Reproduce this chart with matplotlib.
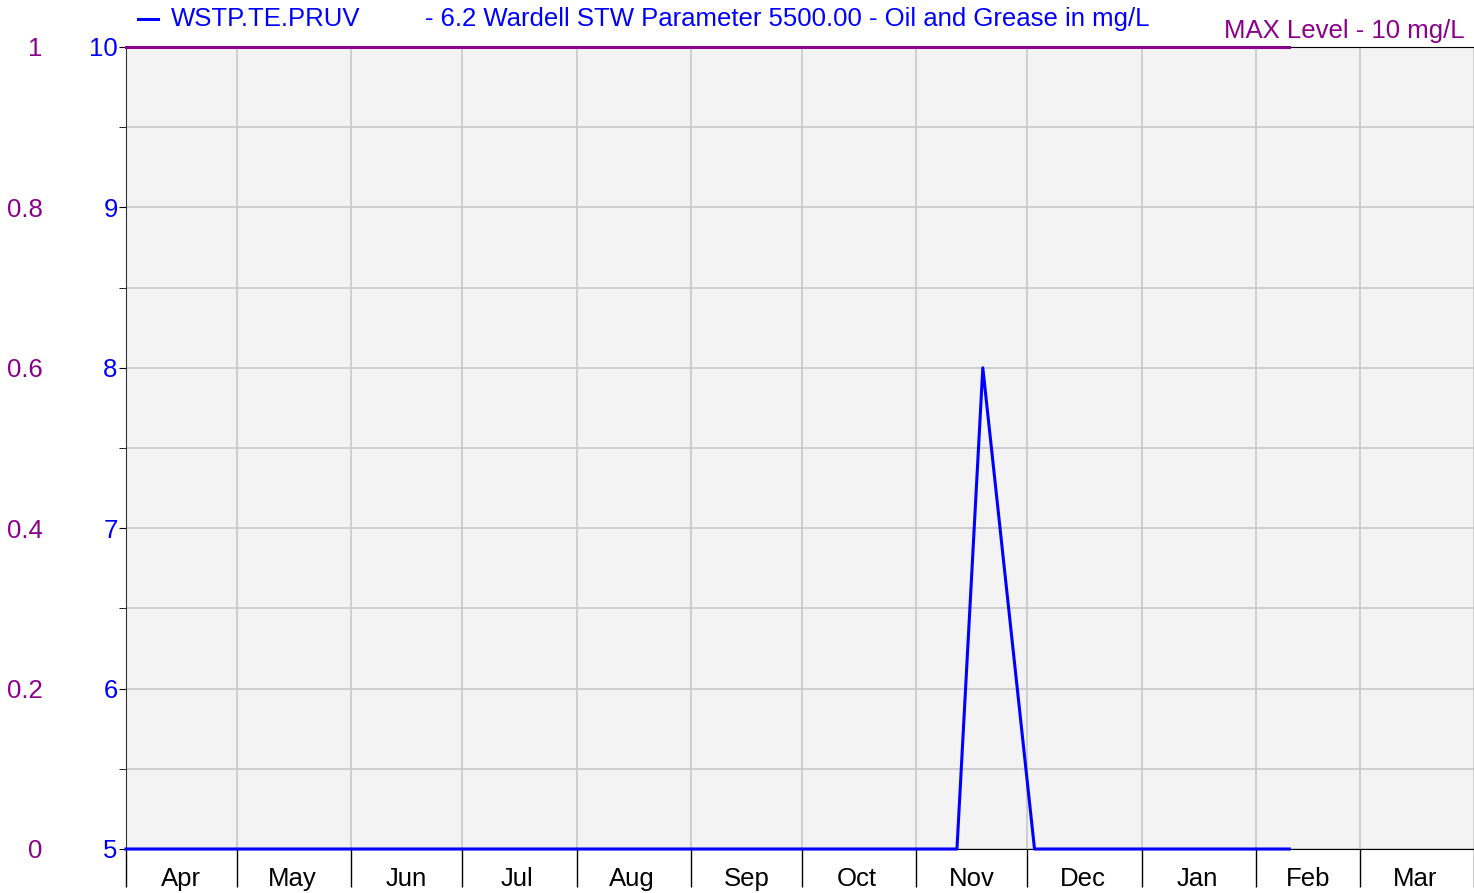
import datetime as dt
import matplotlib
matplotlib.use('Agg')
import matplotlib.pyplot as plt
import matplotlib.dates as mdates
from matplotlib.lines import Line2D

plt.rcParams['font.family'] = ['Liberation Sans', 'DejaVu Sans']

# Sample series (mg/L)
sample_dates = [dt.date(2022, 4, 1), dt.date(2022, 11, 12), dt.date(2022, 11, 19),
                dt.date(2022, 12, 3), dt.date(2023, 2, 10)]
sample_values = [5, 5, 8, 5, 5]

# MAX level line
max_dates = [dt.date(2022, 4, 1), dt.date(2023, 2, 10)]
max_values = [10, 10]

month_starts = [dt.date(2022, m, 1) for m in range(4, 13)] + \
               [dt.date(2023, m, 1) for m in range(1, 5)]
month_labels = ['Apr', 'May', 'Jun', 'Jul', 'Aug', 'Sep', 'Oct', 'Nov', 'Dec',
                'Jan', 'Feb', 'Mar']

left_ticks = [5, 6, 7, 8, 9, 10]
right_labels = ['0', '0.2', '0.4', '0.6', '0.8', '1']

BLUE = '#0000FF'
PURPLE = '#8B008B'
FS = 18.5

fig = plt.figure(figsize=(14.74, 8.93), dpi=100)
ax = fig.add_axes([126 / 1474, 1 - 849 / 893, 1 - 126 / 1474, (849 - 47) / 893])
ax.set_facecolor('#F3F3F3')

ax.plot(sample_dates, sample_values, color=BLUE, linewidth=2.2, zorder=4, clip_on=False)
ax.plot(max_dates, max_values, color=PURPLE, linewidth=2.2, zorder=4, clip_on=False)

ax.set_xlim(month_starts[0], month_starts[-1])
ax.set_ylim(5, 10)

# x axis: long ticks on month boundaries, labels centred in each month
ax.set_xticks(month_starts)
ax.set_xticklabels([])
centres = [month_starts[i] + (month_starts[i + 1] - month_starts[i]) / 2
           for i in range(len(month_labels))]
ax.set_xticks(centres, minor=True)
ax.set_xticklabels(month_labels, minor=True, fontsize=FS)
ax.tick_params(axis='x', which='major', length=27, width=1, color='black')
ax.tick_params(axis='x', which='minor', length=0, pad=13)

# y axis (blue)
ax.set_yticks(left_ticks)
ax.set_yticks([5.5, 6.5, 7.5, 8.5, 9.5], minor=True)
ax.tick_params(axis='y', which='major', length=5, labelcolor=BLUE, labelsize=FS, pad=1)
ax.tick_params(axis='y', which='minor', length=5)

ax.grid(True, which='major', axis='x', color='#C8C8C8', linewidth=1.2)
ax.grid(True, which='both', axis='y', color='#C8C8C8', linewidth=1.2)
ax.set_axisbelow(True)

ax.spines['right'].set_visible(False)
ax.spines['top'].set_color('black')
ax.spines['left'].set_color('#333333')
ax.spines['bottom'].set_color('black')

# secondary (purple) scale on far left
ax2 = ax.twinx()
ax2.set_ylim(0, 1)
ax2.set_yticks([0, 0.2, 0.4, 0.6, 0.8, 1])
ax2.set_yticklabels(right_labels)
ax2.yaxis.set_ticks_position('left')
ax2.yaxis.set_label_position('left')
ax2.tick_params(axis='y', length=0, pad=60, labelcolor=PURPLE, labelsize=FS)
for s in ax2.spines.values():
    s.set_visible(False)

# legend / title row
fig.add_artist(Line2D([138 / 1474, 158 / 1474], [1 - 19 / 893, 1 - 19 / 893],
                      color=BLUE, linewidth=2.2))
fig.text(171 / 1474, 1 - 19 / 893, 'WSTP.TE.PRUV', color=BLUE, fontsize=FS,
         va='center', ha='left')
fig.text(425 / 1474, 1 - 19 / 893,
         '- 6.2 Wardell STW Parameter 5500.00 - Oil and Grease in mg/L',
         color=BLUE, fontsize=FS, va='center', ha='left')
fig.text(1465 / 1474, 1 - 31 / 893, 'MAX Level - 10 mg/L', color=PURPLE,
         fontsize=FS, va='center', ha='right')

fig.savefig('out.png', dpi=100)
